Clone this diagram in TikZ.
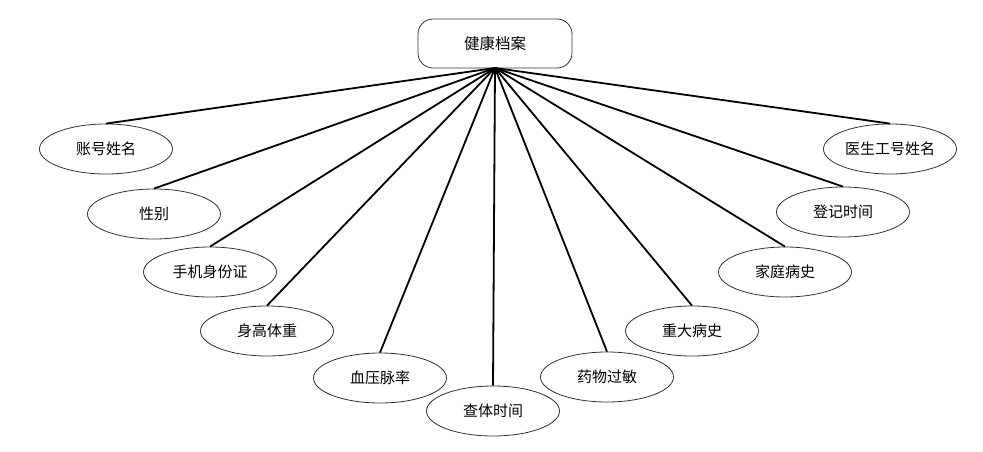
\documentclass[tikz,border=0pt]{standalone}
\usepackage{fontspec}
\setmainfont{Noto Sans CJK SC}
\usetikzlibrary{shapes.geometric}
\begin{document}
\begin{tikzpicture}[x=1pt,y=-1pt,
  attr/.style={ellipse,draw=black!80,line width=0.8pt,minimum width=133pt,minimum height=50pt,inner sep=0pt,font=\fontsize{15}{18}\selectfont},
  ent/.style={draw=black!80,line width=0.8pt,rounded corners=15pt,minimum width=154pt,minimum height=49pt,inner sep=0pt,font=\fontsize{15.5}{18}\selectfont},
  link/.style={line width=1.8pt,black}]
\useasboundingbox (0,0) rectangle (983,452);
\node[ent] (root) at (495,43.5) {健康档案};
\coordinate (hub) at (495,68);
\node[attr] (a1) at (106,149) {账号姓名};
\node[attr] (a2) at (154,214) {性别};
\node[attr] (a3) at (210,272) {手机身份证};
\node[attr] (a4) at (267,331) {身高体重};
\node[attr] (a5) at (380,378) {血压脉率};
\node[attr] (a6) at (493,411) {查体时间};
\node[attr] (a7) at (607,377) {药物过敏};
\node[attr] (a8) at (692,331) {重大病史};
\node[attr] (a9) at (785,272) {家庭病史};
\node[attr] (a10) at (843,212) {登记时间};
\node[attr] (a11) at (890,149) {医生工号姓名};
\foreach \n in {a1,a2,a3,a4,a5,a6,a7,a8,a9,a10,a11}
  \draw[link] (hub) -- (\n.north);
\end{tikzpicture}
\end{document}
